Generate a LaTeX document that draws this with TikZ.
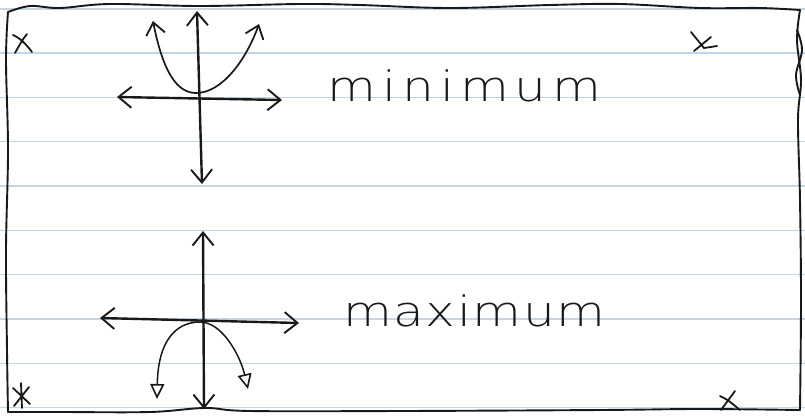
\documentclass[tikz,border=0pt]{standalone}
\usepackage{fontspec}
\usetikzlibrary{arrows.meta}
\newfontfamily\handmin{DejaVu Sans ExtraLight}[LetterSpace=12]
\newfontfamily\handmax{DejaVu Sans ExtraLight}[LetterSpace=3]
\definecolor{paperline}{RGB}{196,213,227}
\definecolor{ink}{RGB}{25,25,25}
\begin{document}
\begin{tikzpicture}[x=1bp,y=-1bp,
  rule/.style={paperline,line width=1.6bp},
  frame/.style={ink,line width=1.9bp,line join=round,line cap=round},
  axis/.style={ink,line width=2.4bp,line cap=round,
    {Straight Barb[length=13bp,width=21bp,line width=1.9bp]}-{Straight Barb[length=13bp,width=21bp,line width=1.9bp]}},
  vcurve/.style={ink,line width=1.7bp,line cap=round,
    {Straight Barb[length=12bp,width=19bp,line width=1.8bp]}-{Straight Barb[length=12bp,width=19bp,line width=1.8bp]}},
  tcurve/.style={ink,line width=1.5bp,line cap=round,
    {Triangle[open,length=15bp,width=14bp,line width=1.6bp]}-{Triangle[open,length=15bp,width=14bp,line width=1.6bp]}},
  xmark/.style={ink,line width=1.8bp,line cap=round},
  word/.style={inner sep=0pt,anchor=base west,text=ink,xscale=1.2}]
\useasboundingbox (0,0) rectangle (805,415);
\fill[white] (0,0) rectangle (805,415);
% ruled lines
\foreach \y in {8.7,53,97.3,141.6,186,230.3,274.6,319,363.3,407.6}
  \draw[rule] (0,\y) -- (805,\y);
% hand-drawn frame
\draw[frame] plot[smooth,tension=0.6] coordinates {(8,12) (30,6) (60,8) (110,4) (200,6) (300,4) (360,5) (450,8) (550,5) (620,4) (700,8) (760,8) (800,10)};
\draw[frame] plot[smooth,tension=0.6] coordinates {(800,10) (797,40) (801,80) (798,120) (800,200) (801,300) (800,410)};
\draw[frame] plot[smooth,tension=0.6] coordinates {(797,30) (802,50) (796,75) (800,95)};
\draw[frame] plot[smooth,tension=0.6] coordinates {(800,410) (700,409) (600,410) (400,411) (250,411) (205,408) (150,412) (60,412) (8,412)};
\draw[frame] plot[smooth,tension=0.6] coordinates {(8,412) (7,350) (6,250) (8,150) (6,60) (8,12)};
% corner marks
\draw[xmark] (13,35) .. controls (20,38) and (26,44) .. (32,52) (27,34) .. controls (22,40) and (19,46) .. (15,53);
\draw[xmark] (691,32) -- (704,48) -- (717,46) (694,51) -- (711,37);
\draw[xmark] (13,388) -- (30,404) (29,387) -- (14,406) (21,383) -- (22,408);
\draw[xmark] (720,396) .. controls (728,400) .. (740,410) (735,391) -- (721,410);
% minimum graph
\coordinate (A1l) at (117,97); \coordinate (A1r) at (282,100);
\coordinate (A1t) at (197,11); \coordinate (A1b) at (202,184);
\draw[axis] (A1l) -- (A1r);
\draw[axis] (A1t) -- (A1b);
\coordinate (P1l) at (153,21); \coordinate (P1v) at (196,93); \coordinate (P1r) at (259,24);
\draw[vcurve] (P1l) .. controls (163,72) and (177,93) .. (P1v) .. controls (222,93) and (246,60) .. (P1r);
% maximum graph
\coordinate (A2l) at (100,318); \coordinate (A2r) at (299,323);
\coordinate (A2t) at (203,231); \coordinate (A2b) at (204,409);
\draw[axis] (A2l) -- (A2r);
\draw[axis] (A2t) -- (A2b);
\coordinate (P2l) at (157,399); \coordinate (P2v) at (200,322); \coordinate (P2r) at (248,389);
\draw[tcurve] (P2l) .. controls (158,342) and (175,322) .. (P2v) .. controls (222,322) and (240,355) .. (P2r);
% words
\node[word,font=\handmin\fontsize{42}{42}\selectfont] (minw) at (327,101) {minimum};
\node[word,font=\handmax\fontsize{42}{42}\selectfont] (maxw) at (343,326) {maximum};
\end{tikzpicture}
\end{document}
